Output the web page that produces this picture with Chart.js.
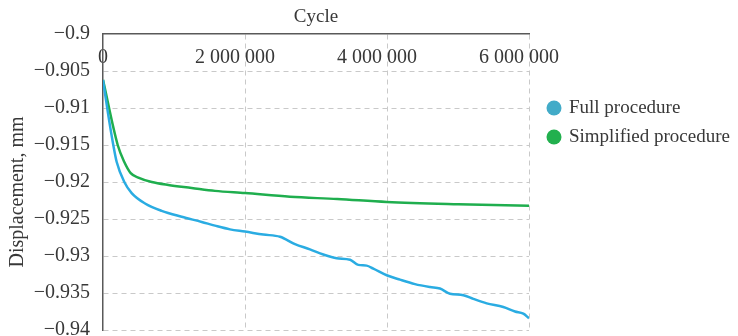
<!DOCTYPE html>
<html>
<head>
<meta charset="utf-8">
<script src="https://cdn.jsdelivr.net/npm/chart.js@4/dist/chart.umd.min.js"></script>
<style>
  html, body { margin: 0; padding: 0; background: #ffffff; }
  #wrap { width: 738px; height: 336px; }
</style>
</head>
<body>
<div id="wrap"><canvas id="c" width="738" height="336"></canvas></div>
<script>
// Settlement of the specimen over the loading cycles
const fullCycles = [0, 75000, 145000, 193000, 300000, 404000, 592000, 826000, 1108000, 1390000,
  1577000, 1789000, 2000000, 2258000, 2493000, 2704000, 2915000, 3103000, 3291000, 3479000,
  3596000, 3714000, 3807000, 3996000, 4183000, 4394000, 4606000, 4746000, 4887000, 5075000,
  5216000, 5404000, 5638000, 5803000, 5920000, 6000000];
const fullDisp = [-0.9062, -0.9110, -0.9150, -0.9173, -0.9200, -0.9215, -0.9229, -0.9239, -0.9247, -0.9254,
  -0.9259, -0.9264, -0.9267, -0.9271, -0.9274, -0.9284, -0.9291, -0.9298, -0.9303, -0.9305,
  -0.9312, -0.9313, -0.9317, -0.9326, -0.9332, -0.9338, -0.9342, -0.9344, -0.9351, -0.9353,
  -0.9358, -0.9364, -0.9369, -0.9375, -0.9378, -0.9384];

const simpCycles = [0, 207000, 300000, 390000, 497000, 686000, 920000, 1249000, 1577000, 2000000,
  2634000, 3300000, 3996000, 5000000, 6000000];
const simpDisp = [-0.9062, -0.9150, -0.9173, -0.9188, -0.9194, -0.9200, -0.9204, -0.9208, -0.9212, -0.9215,
  -0.9220, -0.9223, -0.9227, -0.9230, -0.9232];

const cycleTicks = [0, 2000000, 4000000, 6000000];
const cycleTickLabels = ['0', '2 000 000', '4 000 000', '6 000 000'];
const dispTicks = [-0.94, -0.935, -0.93, -0.925, -0.92, -0.915, -0.91, -0.905, -0.9];
const dispTickLabels = ['\u22120.94', '\u22120.935', '\u22120.93', '\u22120.925', '\u22120.92',
  '\u22120.915', '\u22120.91', '\u22120.905', '\u22120.9'];

const seriesNames = ['Full procedure', 'Simplified procedure'];

const FONT_FAMILY = "'Liberation Serif', 'Times New Roman', serif";
const TEXT = '#383838';
const GRID = '#c9c9c9';
const AXIS = '#595959';

const toPoints = (xs, ys) => xs.map((x, i) => ({ x: x, y: ys[i] }));

// Legend drawn to the right of the plot, one dot + name per series
const sideLegend = {
  id: 'sideLegend',
  afterDraw(chart, args, opts) {
    const ctx = chart.ctx;
    ctx.save();
    ctx.font = opts.font;
    ctx.textAlign = 'left';
    ctx.textBaseline = 'middle';
    chart.data.datasets.forEach((ds, i) => {
      const y = opts.top + i * opts.spacing;
      ctx.beginPath();
      ctx.fillStyle = ds.legendColor;
      ctx.arc(opts.x, y, opts.radius, 0, Math.PI * 2);
      ctx.fill();
      ctx.fillStyle = opts.color;
      ctx.fillText(ds.label, opts.x + opts.gap, y);
    });
    ctx.restore();
  }
};

new Chart(document.getElementById('c'), {
  type: 'line',
  data: {
    datasets: [
      {
        label: seriesNames[0],
        data: toPoints(fullCycles, fullDisp),
        borderColor: '#2aace2',
        legendColor: '#42abc8',
        borderWidth: 2.5,
        pointRadius: 0,
        cubicInterpolationMode: 'monotone',
        fill: false
      },
      {
        label: seriesNames[1],
        data: toPoints(simpCycles, simpDisp),
        borderColor: '#1fae4e',
        legendColor: '#22b04e',
        borderWidth: 2.5,
        pointRadius: 0,
        cubicInterpolationMode: 'monotone',
        fill: false
      }
    ]
  },
  options: {
    responsive: false,
    devicePixelRatio: 1,
    animation: false,
    layout: { padding: { left: 0, top: 0, right: 209, bottom: 6 } },
    plugins: {
      legend: { display: false },
      tooltip: { enabled: false },
      sideLegend: {
        x: 554, top: 108, spacing: 29, radius: 7.5, gap: 15,
        font: "19px " + FONT_FAMILY, color: TEXT
      }
    },
    scales: {
      x: {
        type: 'linear',
        position: 'top',
        min: 0,
        max: 6000000,
        afterBuildTicks: s => { s.ticks = cycleTicks.map(v => ({ value: v })); },
        afterFit: s => {
          s.height = 34;
          s.paddingLeft = 0;
          s.paddingRight = 0;
        },
        ticks: {
          mirror: true,
          padding: 12,
          maxRotation: 0,
          autoSkip: false,
          color: TEXT,
          font: { family: FONT_FAMILY, size: 20 },
          callback: v => {
            const label = cycleTickLabels[cycleTicks.indexOf(v)];
            return v === 0 ? label : label + '\u2002\u2002';
          }
        },
        grid: {
          drawTicks: false,
          lineWidth: 1,
          color: c => (c.tick && c.tick.value === 0) ? 'rgba(0,0,0,0)' : GRID
        },
        border: { display: true, color: AXIS, width: 1.5, dash: [5, 4] },
        title: {
          display: true,
          text: 'Cycle',
          color: TEXT,
          font: { family: FONT_FAMILY, size: 19 },
          padding: { top: 6, bottom: 0 }
        }
      },
      y: {
        type: 'linear',
        min: -0.94,
        max: -0.9,
        afterBuildTicks: s => { s.ticks = dispTicks.map(v => ({ value: v })); },
        afterFit: s => {
          s.width = 103;
          s.paddingTop = 0;
          s.paddingBottom = 0;
        },
        ticks: {
          padding: 13,
          color: TEXT,
          font: { family: FONT_FAMILY, size: 20 },
          callback: v => {
            let k = 0;
            dispTicks.forEach((t, i) => { if (Math.abs(t - v) < Math.abs(dispTicks[k] - v)) k = i; });
            return dispTickLabels[k];
          }
        },
        grid: {
          drawTicks: false,
          lineWidth: 1,
          color: c => (c.tick && Math.abs(c.tick.value + 0.9) < 1e-9) ? 'rgba(0,0,0,0)' : GRID
        },
        border: { display: true, color: AXIS, width: 1.5, dash: [5, 4] },
        title: {
          display: true,
          text: 'Displacement, mm\u2002\u2002',
          color: TEXT,
          font: { family: FONT_FAMILY, size: 20 },
          padding: { top: 6, bottom: 0 }
        }
      }
    }
  },
  plugins: [sideLegend]
});
</script>
</body>
</html>
